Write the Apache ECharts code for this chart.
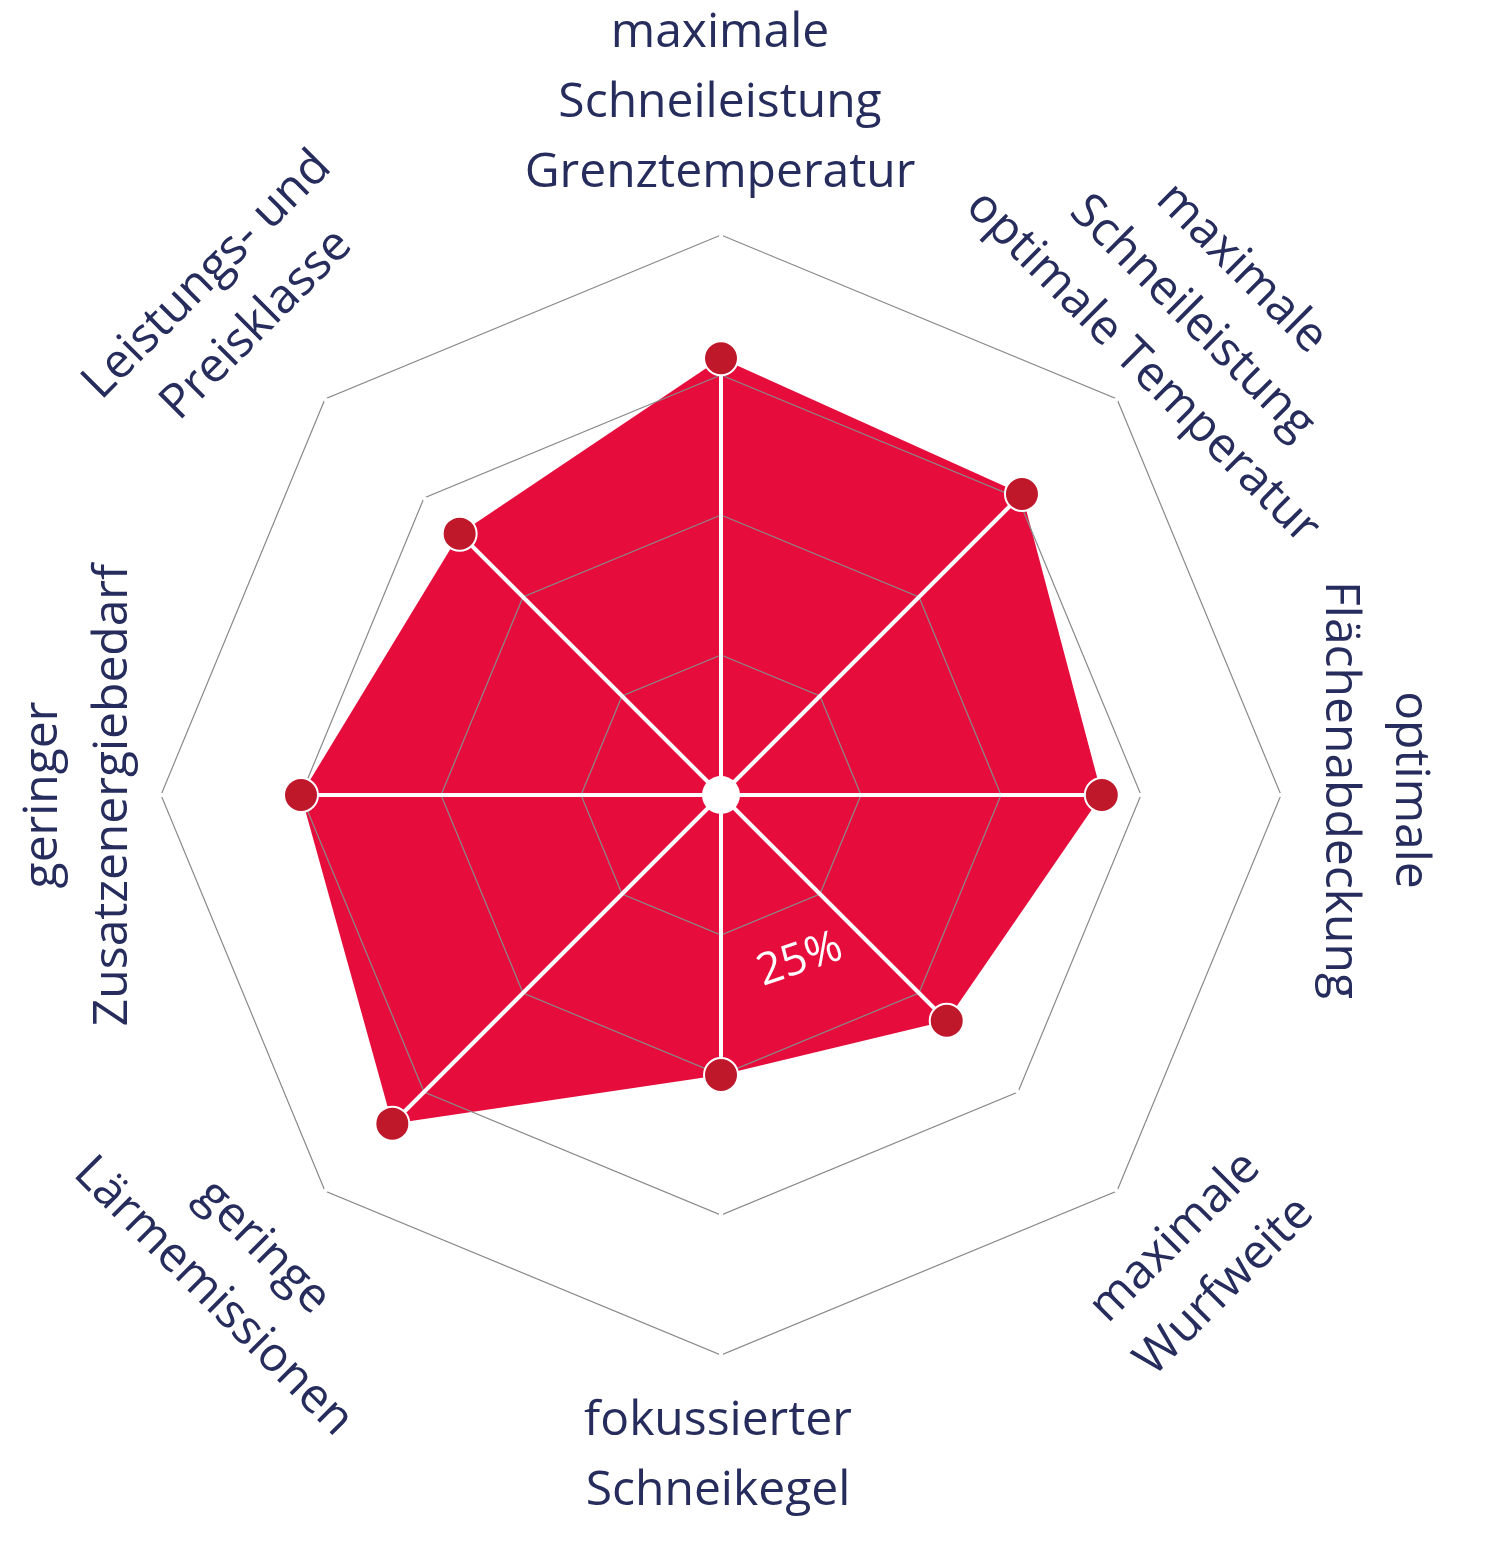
<!DOCTYPE html>
<html>
<head>
<meta charset="UTF-8">
<title></title>
<style>html,body{margin:0;padding:0;background:#fff}</style>
</head>
<body>
<div id="radar" style="width:1500px;height:1557px"></div>
<script src="https://cdn.jsdelivr.net/npm/echarts@6/dist/echarts.min.js"></script>
<script>
// counterclockwise from top, as ECharts lays radar indicators out
var categories = ['top', 'topLeft', 'left', 'bottomLeft', 'bottom', 'bottomRight', 'right', 'topRight'];
var values = [78, 66, 75, 83, 50, 57, 68, 76];
var labels = [
	{ text: 'maximale\nSchneileistung\nGrenztemperatur', x: 720, y: 103, rot: 0 },
	{ text: 'Leistungs- und\nPreisklasse', x: 232, y: 300, rot: Math.PI / 4 },
	{ text: 'geringer\nZusatzenergiebedarf', x: 78, y: 795, rot: Math.PI / 2 },
	{ text: 'geringe\nLärmemissionen', x: 238, y: 1272, rot: -Math.PI / 4 },
	{ text: 'fokussierter\nSchneikegel', x: 718, y: 1456, rot: 0 },
	{ text: 'maximale\nWurfweite', x: 1200, y: 1262, rot: Math.PI / 4 },
	{ text: 'optimale\nFlächenabdeckung', x: 1375, y: 790, rot: -Math.PI / 2 },
	{ text: 'maximale\nSchneileistung\noptimale Temperatur', x: 1192, y: 318, rot: -Math.PI / 4 }
];

var cx = 721, cy = 795, R = 560;
var indicator = categories.map(function (c) { return { name: c, max: 100 }; });
var radarBase = { indicator: indicator, center: [cx, cy], radius: R, splitNumber: 4, axisName: { show: false } };

var graphics = labels.map(function (l) {
	return {
		type: 'text', x: l.x, y: l.y, rotation: l.rot, z: 10,
		style: { text: l.text, fill: '#262c5c', font: '48px "Open Sans"', align: 'center', verticalAlign: 'middle', lineHeight: 70 }
	};
});
graphics.push({ type: 'circle', shape: { cx: cx, cy: cy, r: 19 }, style: { fill: '#fff' }, z: 10 });
graphics.push({
	type: 'text', x: 800, y: 960, rotation: 0.33, z: 10,
	style: { text: '25%', fill: '#fff', font: '44px "Open Sans"', align: 'center', verticalAlign: 'middle' }
});

var myChart = echarts.init(document.getElementById('radar'));
myChart.setOption({
	animation: false,
	radar: [
		Object.assign({}, radarBase, {
			z: 1,
			splitLine: { show: false }, splitArea: { show: false }, axisLine: { show: false }
		}),
		Object.assign({}, radarBase, {
			z: 3,
			splitLine: { lineStyle: { color: '#8a8a8a', width: 1.2 } },
			splitArea: { show: false },
			axisLine: { lineStyle: { color: '#fff', width: 4 } }
		})
	],
	series: [{
		type: 'radar', radarIndex: 0, z: 1, symbol: 'none',
		lineStyle: { width: 0 },
		areaStyle: { color: '#e60c3c', opacity: 1 },
		data: [{ value: values }]
	}, {
		type: 'radar', radarIndex: 1, z: 4, symbol: 'circle', symbolSize: 34,
		lineStyle: { width: 0, opacity: 0 },
		itemStyle: { color: '#c0182b', borderColor: '#fff', borderWidth: 2 },
		data: [{ value: values }]
	}],
	graphic: graphics
});
</script>
</body>
</html>
